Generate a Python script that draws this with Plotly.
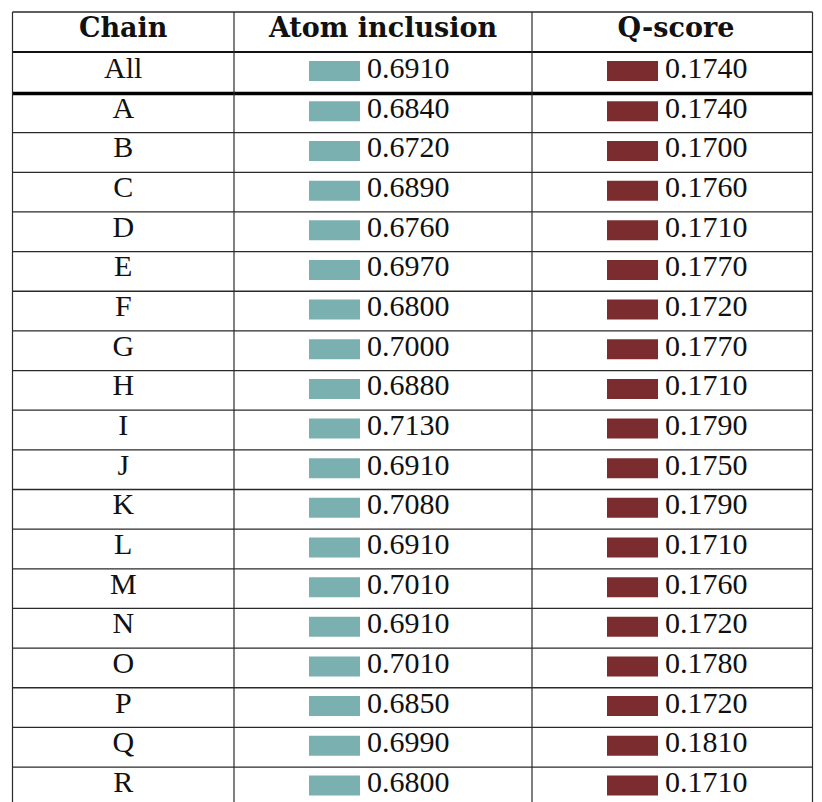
import plotly.graph_objects as go

# ---- data ----
chains = ["All", "A", "B", "C", "D", "E", "F", "G", "H", "I", "J", "K", "L", "M", "N", "O", "P", "Q", "R"]
atom_inclusion = [0.6910, 0.6840, 0.6720, 0.6890, 0.6760, 0.6970, 0.6800, 0.7000, 0.6880, 0.7130,
                  0.6910, 0.7080, 0.6910, 0.7010, 0.6910, 0.7010, 0.6850, 0.6990, 0.6800]
q_score = [0.1740, 0.1740, 0.1700, 0.1760, 0.1710, 0.1770, 0.1720, 0.1770, 0.1710, 0.1790,
           0.1750, 0.1790, 0.1710, 0.1760, 0.1720, 0.1780, 0.1720, 0.1810, 0.1710]
headers = ["Chain", "Atom inclusion", "Q-score"]

# ---- layout constants (page pixel space) ----
W, H = 822, 802
OFF = 8  # default page body margin
col_edges = [12.5, 234, 532, 820]
right_border = 812.5  # visible right edge of the page content
header_top, header_bot = 12, 52
all_bot = 93
row_h = 39.65
TEAL = "#7AB0AF"
MAROON = "#7B2C2F"
sw_w, sw_h = 51, 20
sw_left = [309, 607]
BODY_FONT = "Liberation Serif"
HEAD_FONT = "DejaVu Serif"

tops = [header_bot] + [all_bot + i * row_h for i in range(len(chains) - 1)]
bots = [all_bot] + [all_bot + (i + 1) * row_h for i in range(len(chains) - 1)]
centers = [(t + b) / 2 for t, b in zip(tops, bots)]

fig = go.Figure()

for k, (vals, col) in enumerate([(atom_inclusion, TEAL), (q_score, MAROON)]):
    fig.add_trace(go.Bar(
        orientation="h",
        y=[c - 1.5 for c in centers],
        x=[sw_w] * len(vals),
        base=[sw_left[k]] * len(vals),
        width=sw_h,
        marker=dict(color=col, line=dict(width=0)),
        hoverinfo="skip",
        showlegend=False,
    ))
    fig.add_trace(go.Scatter(
        x=[sw_left[k] + sw_w + 7] * len(vals),
        y=[c - 2.5 for c in centers],
        mode="text",
        text=[f"{v:.4f}" for v in vals],
        textposition="middle right",
        textfont=dict(family=BODY_FONT, size=30, color="#111111"),
        hoverinfo="skip",
        showlegend=False,
    ))

fig.add_trace(go.Scatter(
    x=[(col_edges[0] + col_edges[1]) / 2] * len(chains),
    y=[c - 2.5 for c in centers],
    mode="text",
    text=chains,
    textposition="middle center",
    textfont=dict(family=BODY_FONT, size=30, color="#111111"),
    hoverinfo="skip",
    showlegend=False,
))

fig.add_trace(go.Scatter(
    x=[(col_edges[i] + col_edges[i + 1]) / 2 for i in range(3)],
    y=[(header_top + header_bot) / 2 - 2] * 3,
    mode="text",
    text=[f"<b>{h}</b>" for h in headers],
    textposition="middle center",
    textfont=dict(family=HEAD_FONT, size=27, color="#111111"),
    hoverinfo="skip",
    showlegend=False,
))

shapes = []
line_col = "#2a2a2a"
x_l, x_r = col_edges[0], right_border
shapes.append(dict(type="line", xref="x", yref="y", x0=x_l, x1=x_r, y0=header_top, y1=header_top,
                   line=dict(color=line_col, width=1.5)))
shapes.append(dict(type="line", xref="x", yref="y", x0=x_l, x1=x_r, y0=header_bot, y1=header_bot,
                   line=dict(color="#111111", width=2)))
shapes.append(dict(type="line", xref="x", yref="y", x0=x_l, x1=x_r, y0=all_bot + 0.5, y1=all_bot + 0.5,
                   line=dict(color="#000000", width=3.5)))
for b in bots[1:]:
    if b < H:
        shapes.append(dict(type="line", xref="x", yref="y", x0=x_l, x1=x_r, y0=b, y1=b,
                           line=dict(color=line_col, width=1.3)))
for xe in col_edges[:-1] + [right_border]:
    shapes.append(dict(type="line", xref="x", yref="y", x0=xe, x1=xe, y0=header_top, y1=H + 5,
                       line=dict(color=line_col, width=1.2)))

fig.update_layout(
    width=W - OFF, height=H - OFF,
    margin=dict(l=0, r=0, t=0, b=0),
    paper_bgcolor="white", plot_bgcolor="white",
    xaxis=dict(range=[OFF, W], visible=False, fixedrange=True),
    yaxis=dict(range=[H, OFF], visible=False, fixedrange=True),
    barmode="overlay",
    shapes=shapes,
    showlegend=False,
)

fig.write_html("out.html")
